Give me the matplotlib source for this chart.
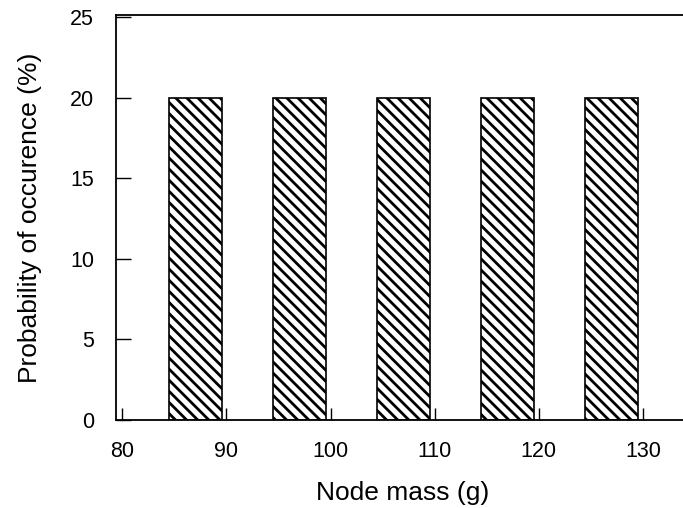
import matplotlib
matplotlib.use('Agg')
import matplotlib.pyplot as plt

# dados
node_mass = [87, 97, 107, 117, 127]
probability = [20, 20, 20, 20, 20]
x_ticks = [80, 90, 100, 110, 120, 130]
y_ticks = [0, 5, 10, 15, 20, 25]

plt.rcParams['font.family'] = ['Liberation Sans', 'DejaVu Sans']
plt.rcParams['hatch.linewidth'] = 2.0

fig = plt.figure(figsize=(6.83, 5.08), dpi=100)
ax = fig.add_axes([0.170, 0.173, 0.84, 0.797])

ax.bar(
    node_mass,
    probability,
    width=5.1,
    color='white',
    edgecolor='black',
    linewidth=1.2,
    hatch='\\\\\\'
)

ax.set_xlim(79.4, 134.5)
ax.set_ylim(0, 25.1)
ax.set_xticks(x_ticks)
ax.set_yticks(y_ticks)

ax.spines['right'].set_visible(False)
for s in ['left', 'top', 'bottom']:
    ax.spines[s].set_linewidth(1.3)

ax.tick_params(axis='x', direction='in', length=9, width=1, labelsize=15.5, pad=15)
ax.tick_params(axis='y', direction='in', length=11, width=1, labelsize=15.5, pad=16)

ax.set_xlabel('Node mass (g)', fontsize=19, labelpad=14)
ax.set_ylabel('Probability of occurence (%)', fontsize=19, labelpad=20)

fig.savefig('out.png', dpi=100)
